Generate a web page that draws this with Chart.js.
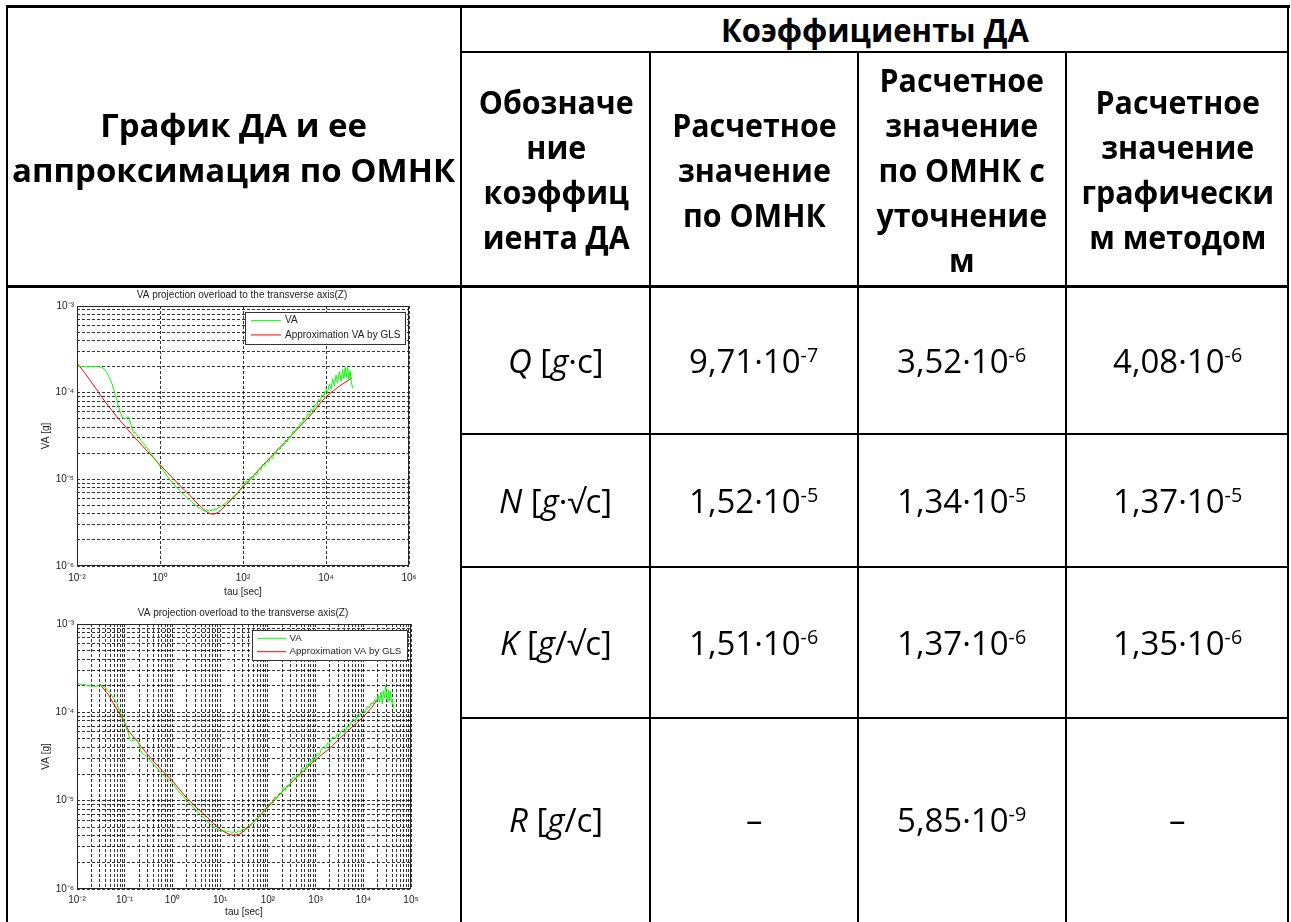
<!DOCTYPE html>
<html>
<head>
<meta charset="utf-8">
<script src="https://cdn.jsdelivr.net/npm/chart.js@4.4.1/dist/chart.umd.min.js"></script>
<style>
  html, body { margin: 0; padding: 0; background: #fff; }
  body { width: 1291px; height: 922px; position: relative; overflow: hidden; }
  .ln { position: absolute; background: #000; }
  .cell { position: absolute; display: flex; align-items: center; justify-content: center;
          text-align: center; color: #000; font-family: "Open Sans", "Noto Sans", sans-serif;
          font-size: 33px; line-height: 45px; }
  .cell .t { display: inline-block; white-space: nowrap; }
  .b { font-weight: 700; }
  .cell sup { font-size: 0.6em; line-height: 0; vertical-align: 0.55em; }
  canvas { position: absolute; }
</style>
</head>
<body>
<canvas id="chartGLS" width="444" height="320" style="left:20px;top:280px;"></canvas>
<canvas id="chartRefined" width="446" height="322" style="left:20px;top:598px;"></canvas>
<script>
// ---------- table content ----------
const headerLeft = ['График ДА и ее', 'аппроксимация по ОМНК'];
const headerGroup = 'Коэффициенты ДА';
const columnHeads = [
  ['Обозначе', 'ние', 'коэффиц', 'иента ДА'],
  ['Расчетное', 'значение', 'по ОМНК'],
  ['Расчетное', 'значение', 'по ОМНК с', 'уточнение', 'м'],
  ['Расчетное', 'значение', 'графически', 'м методом']
];
const coefSymbols = ['Q', 'N', 'K', 'R'];
const coefUnits = ['·с]', '·√с]', '/√с]', '/с]'];
const glsValues = [[9.71, -7], [1.52, -5], [1.51, -6], null];
const refinedValues = [[3.52, -6], [1.34, -5], [1.37, -6], [5.85, -9]];
const graphicValues = [[4.08, -6], [1.37, -5], [1.35, -6], null];

// ---------- chart content ----------
const chartTitle = 'VA projection overload to the transverse axis(Z)';
const xAxisTitle = 'tau [sec]';
const yAxisTitle = 'VA [g]';
const seriesNames = ['VA', 'Approximation VA by GLS'];

// top chart: tick values and labels
const gls_xTicks = [1e-2, 1e0, 1e2, 1e4, 1e6];
const gls_xLabels = ['10⁻²', '10⁰', '10²', '10⁴', '10⁶'];
// bottom chart: labelled decades, minor lines at 2..9 of every decade
const ref_xDecades = [1e-2, 1e-1, 1e0, 1e1, 1e2, 1e3, 1e4, 1e5];
const ref_xLabels = ['10⁻²', '10⁻¹', '10⁰', '10¹', '10²', '10³', '10⁴', '10⁵'];
// shared VA axis
const yDecades = [1e-6, 1e-5, 1e-4, 1e-3];
const yLabels = ['10⁻⁶', '10⁻⁵', '10⁻⁴', '10⁻³'];
const minorSteps = [2, 3, 4, 5, 6, 7, 8, 9];

// measured Allan variance, top chart  [tau, VA]
const vaMeasuredTop = [
  [0.01,2.0e-4],[0.013,2.01e-4],[0.017,1.99e-4],[0.022,2.0e-4],[0.028,2.0e-4],[0.034,1.99e-4],
  [0.04,1.95e-4],[0.046,1.86e-4],[0.052,1.72e-4],[0.058,1.55e-4],[0.064,1.4e-4],[0.07,1.26e-4],
  [0.077,1.08e-4],[0.085,9.3e-5],[0.093,8.0e-5],[0.1,6.9e-5],[0.11,6.0e-5],[0.12,5.4e-5],
  [0.13,5.05e-5],[0.145,5.0e-5],[0.16,5.2e-5],[0.172,5.25e-5],[0.185,4.8e-5],[0.2,4.3e-5],
  [0.215,3.8e-5],[0.23,3.45e-5],[0.25,3.5e-5],[0.27,3.35e-5],[0.3,3.1e-5],[0.35,2.8e-5],
  [0.4,2.6e-5],[0.5,2.25e-5],[0.62,1.95e-5],[0.75,1.72e-5],[0.88,1.55e-5],[1.0,1.42e-5],
  [1.25,1.22e-5],[1.6,1.04e-5],[2.0,9.1e-6],[2.5,8.1e-6],[3.0,7.4e-6],[3.8,6.6e-6],
  [4.7,6.0e-6],[5.8,5.5e-6],[7.0,5.1e-6],[8.2,4.8e-6],[9.5,4.55e-6],[10.5,4.35e-6],
  [11.5,4.45e-6],[12.5,4.3e-6],[13.5,4.5e-6],[14.5,4.28e-6],[15.7,4.48e-6],[17,4.3e-6],
  [18.3,4.55e-6],[19.7,4.35e-6],[21,4.55e-6],[23,4.45e-6],[25,4.7e-6],[28,4.8e-6],
  [32,5.0e-6],[37,5.25e-6],[42,5.5e-6],[48,5.75e-6],[55,6.1e-6],[63,6.5e-6],[72,7.0e-6],
  [82,7.5e-6],[93,8.1e-6],[105,8.6e-6],[120,9.6e-6],[135,9.0e-6],[150,1.05e-5],[170,1.0e-5],
  [190,1.17e-5],[215,1.12e-5],[240,1.3e-5],[270,1.28e-5],[300,1.5e-5],[330,1.42e-5],
  [370,1.62e-5],[410,1.56e-5],[460,1.8e-5],[510,1.74e-5],[570,2.0e-5],[630,1.95e-5],
  [700,2.3e-5],[780,2.2e-5],[860,2.5e-5],[950,2.45e-5],[1050,2.8e-5],[1170,2.7e-5],
  [1300,3.15e-5],[1430,3.05e-5],[1600,3.6e-5],[1770,3.45e-5],[1950,3.95e-5],[2150,3.85e-5],
  [2400,4.5e-5],[2650,4.3e-5],[2950,5.0e-5],[3250,4.8e-5],[3600,5.7e-5],[4000,5.5e-5],
  [4400,6.5e-5],[4900,6.1e-5],[5400,7.3e-5],[6000,7.0e-5],[6600,8.4e-5],[7300,8.0e-5],
  [8000,9.5e-5],[8900,9.0e-5],[9800,1.08e-4],[10800,1.0e-4],[12000,1.25e-4],[13200,1.1e-4],
  [14500,1.45e-4],[16000,1.2e-4],[17500,1.6e-4],[19000,1.3e-4],[21000,1.75e-4],[23000,1.35e-4],
  [25000,1.85e-4],[27000,1.45e-4],[29000,1.95e-4],[31000,1.5e-4],[33000,2.0e-4],[35500,1.4e-4],
  [38000,1.8e-4],[41000,1.3e-4],[44000,1.12e-4]
];
// GLS approximation, top chart
const vaGlsTop = [
  [0.01,2.2e-4],[0.015,1.72e-4],[0.02,1.42e-4],[0.03,1.08e-4],[0.05,7.6e-5],[0.07,6.2e-5],
  [0.1,5.0e-5],[0.15,4.0e-5],[0.2,3.4e-5],[0.3,2.75e-5],[0.5,2.1e-5],[0.7,1.77e-5],
  [1,1.47e-5],[1.5,1.2e-5],[2,1.04e-5],[3,8.5e-6],[4,7.4e-6],[5.5,6.4e-6],[7,5.6e-6],
  [10,4.75e-6],[13,4.25e-6],[16,4.02e-6],[18,3.97e-6],[21,4.0e-6],[25,4.15e-6],[30,4.45e-6],
  [40,5.1e-6],[55,6.0e-6],[75,7.0e-6],[100,8.2e-6],[150,1.0e-5],[200,1.17e-5],[300,1.45e-5],
  [500,1.88e-5],[700,2.22e-5],[1000,2.65e-5],[1500,3.25e-5],[2000,3.75e-5],[3000,4.6e-5],
  [5000,6.0e-5],[7000,7.4e-5],[1e4,9.0e-5],[1.5e4,1.05e-4],[2e4,1.17e-4],[3e4,1.33e-4],
  [4.2e4,1.48e-4]
];
// measured Allan variance, bottom chart
const vaMeasuredBottom = [
  [0.01,2.1e-4],[0.013,2.07e-4],[0.016,2.02e-4],[0.019,1.99e-4],[0.022,1.97e-4],[0.026,1.97e-4],
  [0.03,2.05e-4],[0.035,1.98e-4],[0.04,1.88e-4],[0.049,1.66e-4],[0.058,1.45e-4],[0.068,1.26e-4],
  [0.08,1.02e-4],[0.093,8.5e-5],[0.105,7.0e-5],[0.119,5.8e-5],[0.129,4.9e-5],[0.14,4.75e-5],
  [0.155,4.8e-5],[0.178,4.95e-5],[0.2,4.4e-5],[0.215,3.8e-5],[0.23,3.45e-5],[0.26,3.3e-5],
  [0.29,3.15e-5],[0.4,2.6e-5],[0.55,2.13e-5],[0.75,1.8e-5],[1.0,1.58e-5],[1.4,1.25e-5],
  [2,1.0e-5],[2.8,8.3e-6],[3.8,7.1e-6],[5.2,5.9e-6],[7.2,5.05e-6],[9,4.7e-6],[10.7,4.45e-6],
  [12,4.6e-6],[13.7,4.4e-6],[15.5,4.55e-6],[17.5,4.26e-6],[19.5,4.5e-6],[22,4.3e-6],
  [24,4.6e-6],[26,4.4e-6],[29,4.75e-6],[33,4.7e-6],[37,5.1e-6],[42,5.3e-6],[48,5.5e-6],
  [55,6.1e-6],[62,6.3e-6],[70,7.0e-6],[80,7.6e-6],[90,8.2e-6],[100,8.6e-6],[112,9.4e-6],
  [125,9.8e-6],[140,1.1e-5],[155,1.05e-5],[172,1.22e-5],[190,1.17e-5],[211,1.42e-5],
  [232,1.3e-5],[255,1.5e-5],[280,1.45e-5],[310,1.7e-5],[342,1.85e-5],[375,1.72e-5],
  [410,1.98e-5],[450,1.88e-5],[500,2.2e-5],[555,2.4e-5],[600,2.2e-5],[660,2.6e-5],
  [720,2.45e-5],[790,2.85e-5],[870,2.7e-5],[900,3.15e-5],[990,3.0e-5],[1090,3.45e-5],
  [1200,3.3e-5],[1320,3.8e-5],[1455,4.1e-5],[1600,3.85e-5],[1760,4.5e-5],[1930,4.3e-5],
  [2120,4.95e-5],[2357,5.3e-5],[2600,5.0e-5],[2850,5.7e-5],[3150,5.5e-5],[3450,6.2e-5],
  [3820,6.4e-5],[4200,6.0e-5],[4600,7.0e-5],[5100,6.8e-5],[5600,7.8e-5],[6190,8.4e-5],
  [6800,8.0e-5],[7500,9.2e-5],[8300,8.9e-5],[9100,1.0e-4],[1.0e4,1.04e-4],[1.1e4,1.0e-4],
  [1.2e4,1.15e-4],[1.33e4,1.12e-4],[1.46e4,1.28e-4],[1.6e4,1.24e-4],[1.75e4,1.4e-4],
  [1.9e4,1.32e-4],[2.05e4,1.55e-4],[2.2e4,1.3e-4],[2.35e4,1.7e-4],[2.5e4,1.25e-4],
  [2.65e4,1.75e-4],[2.8e4,1.45e-4],[2.95e4,2.0e-4],[3.1e4,1.5e-4],[3.25e4,1.3e-4],
  [3.4e4,1.8e-4],[3.55e4,1.35e-4],[3.7e4,1.75e-4],[3.9e4,1.3e-4],[4.1e4,1.4e-4],[4.3e4,1.11e-4]
];
// refined GLS approximation, bottom chart
const vaGlsBottom = [
  [0.03,2.09e-4],[0.045,1.6e-4],[0.058,1.26e-4],[0.075,1.0e-4],[0.093,8.2e-5],[0.11,6.8e-5],
  [0.129,5.9e-5],[0.15,5.3e-5],[0.178,4.86e-5],[0.22,4.1e-5],[0.29,3.44e-5],[0.4,2.8e-5],
  [0.55,2.32e-5],[0.75,1.95e-5],[1.0,1.68e-5],[1.4,1.35e-5],[2,1.07e-5],[3,8.6e-6],[4,7.5e-6],
  [5.5,6.4e-6],[7.2,5.5e-6],[10,4.75e-6],[13.7,4.28e-6],[17,4.1e-6],[20,4.05e-6],[26,4.2e-6],
  [32,4.55e-6],[40,5.07e-6],[55,6.0e-6],[80,7.4e-6],[120,9.3e-6],[200,1.27e-5],[350,1.7e-5],
  [650,2.35e-5],[1200,3.15e-5],[2000,3.92e-5],[3500,5.3e-5],[6000,6.9e-5],[1e4,8.9e-5],
  [1.5e4,1.13e-4],[2.07e4,1.45e-4]
];

// ---------- table drawing ----------
const colX = [462, 650, 858, 1066, 1289];
const rowY = [286, 434, 567, 718, 920];

function line(x, y, w, h) {
  const d = document.createElement('div');
  d.className = 'ln';
  Object.assign(d.style, { left: x + 'px', top: y + 'px', width: w + 'px', height: h + 'px' });
  document.body.appendChild(d);
}
function cell(cls, x1, x2, y1, y2, html, sx) {
  const d = document.createElement('div');
  d.className = 'cell ' + cls;
  Object.assign(d.style, { left: x1 + 'px', width: (x2 - x1) + 'px', top: y1 + 'px', height: (y2 - y1) + 'px' });
  d.innerHTML = '<span class="t">' + html + '</span>';
  d.firstChild.dataset.sx = sx || 1;
  document.body.appendChild(d);
}

// frame and rules
line(6, 5, 1284, 3);
line(6, 5, 2, 917);
line(1287, 5, 2, 917);
line(460, 5, 2, 917);
line(462, 51, 826, 2);
line(6, 285, 1283, 3);
[649, 857, 1065].forEach(x => line(x, 52, 2, 870));
[433, 566, 717].forEach(y => line(462, y, 826, 2));

const fmtValue = v => v ? `${v[0].toFixed(2).replace('.', ',')}·10<sup>${v[1]}</sup>` : '–';

cell('b', 8, 460, 8, 285, headerLeft.join('<br>'), 1);
cell('b', 462, 1287, 8, 51, headerGroup, 0.94);
columnHeads.forEach((lines, i) => cell('b', colX[i], colX[i + 1], 53, 285, lines.join('<br>'), 0.92));
coefSymbols.forEach((s, r) => {
  const y1 = rowY[r], y2 = rowY[r + 1];
  cell('', colX[0], colX[1], y1, y2, `<i>${s}</i> [<i>g</i>${coefUnits[r]}`, 1);
  cell('', colX[1], colX[2], y1, y2, fmtValue(glsValues[r]), 1);
  cell('', colX[2], colX[3], y1, y2, fmtValue(refinedValues[r]), 1);
  cell('', colX[3], colX[4], y1, y2, fmtValue(graphicValues[r]), 1);
});

// width of the caption line sets the horizontal scale of the table lettering
(function fitLettering() {
  const c = document.createElement('canvas').getContext('2d');
  c.font = '700 33px "Open Sans", "Noto Sans", sans-serif';
  const w = c.measureText(headerLeft[1]).width;
  let f = 443 / w;
  f = Math.max(0.8, Math.min(1.2, f));
  document.querySelectorAll('.cell .t').forEach(s => {
    s.style.transform = `scaleX(${f * Number(s.dataset.sx)})`;
  });
})();

// ---------- charts ----------
const FONT = '"Liberation Sans", Arial, sans-serif';
Chart.defaults.font.family = FONT;
Chart.defaults.font.size = 10;
Chart.defaults.color = '#222';

function tickSet(values, labels) {
  return values.map((v, i) => ({ value: v, lbl: labels[i] }));
}
function decadeGrid(decades, labels) {
  const out = [];
  decades.forEach((d, i) => {
    out.push({ value: d, lbl: labels[i] });
    if (i < decades.length - 1) minorSteps.forEach(m => out.push({ value: m * d, lbl: '' }));
  });
  return out;
}
const toXY = arr => arr.map(p => ({ x: p[0], y: p[1] }));

const axesFrame = {
  id: 'axesFrame',
  afterDatasetsDraw(chart) {
    const { ctx, chartArea: a } = chart;
    ctx.save();
    ctx.strokeStyle = '#262626';
    ctx.lineWidth = 1;
    ctx.strokeRect(Math.round(a.left) + 0.5, Math.round(a.top) + 0.5,
                   Math.round(a.right - a.left) - 1, Math.round(a.bottom - a.top) - 1);
    ctx.restore();
  }
};
const legendBox = {
  id: 'legendBox',
  afterDraw(chart, args, o) {
    const { ctx, chartArea: a } = chart;
    const ds = chart.data.datasets;
    ctx.save();
    ctx.font = `${o.fontSize}px ${FONT}`;
    const tw = Math.max(...ds.map(d => ctx.measureText(d.label).width));
    const w = o.padL + o.lineLen + o.gap + tw + o.padR;
    const h = o.rowH * ds.length + o.padV * 2;
    const x = Math.round(a.right - o.right - w), y = Math.round(a.top + o.top);
    ctx.fillStyle = '#fff';
    ctx.fillRect(x, y, w, h);
    ctx.strokeStyle = '#333';
    ctx.lineWidth = 1;
    ctx.strokeRect(x + 0.5, y + 0.5, Math.round(w), Math.round(h));
    ds.forEach((d, i) => {
      const cy = y + o.padV + o.rowH * (i + 0.5);
      ctx.strokeStyle = d.borderColor;
      ctx.beginPath();
      ctx.moveTo(x + o.padL, cy);
      ctx.lineTo(x + o.padL + o.lineLen, cy);
      ctx.stroke();
      ctx.fillStyle = '#222';
      ctx.textBaseline = 'middle';
      ctx.textAlign = 'left';
      ctx.fillText(d.label, x + o.padL + o.lineLen + o.gap, cy);
    });
    ctx.restore();
  }
};

function makeChart(id, cfg) {
  const gridStyle = { color: 'rgba(0,0,0,0.8)', lineWidth: 1, drawTicks: false };
  const dash = { display: false, dash: [3, 2] };
  return new Chart(document.getElementById(id), {
    type: 'line',
    data: {
      datasets: [
        { label: seriesNames[0], data: toXY(cfg.measured), borderColor: '#00ff00', borderWidth: 1,
          pointRadius: 0, tension: 0, fill: false },
        { label: seriesNames[1], data: toXY(cfg.approx), borderColor: '#ff0000', borderWidth: 1,
          pointRadius: 0, tension: 0, fill: false }
      ]
    },
    options: {
      responsive: false,
      animation: false,
      events: [],
      layout: { padding: 0 },
      plugins: {
        legend: { display: false },
        tooltip: { enabled: false },
        title: { display: true, text: chartTitle, color: '#222',
                 font: { size: 10, weight: 'normal' }, padding: { top: 9, bottom: 5 } },
        legendBox: cfg.legend
      },
      scales: {
        x: {
          type: 'logarithmic', min: cfg.xMin, max: cfg.xMax, position: 'bottom',
          grid: gridStyle, border: dash,
          afterBuildTicks: s => { s.ticks = cfg.xTicks.map(t => ({ ...t })); },
          afterFit: s => { s.height = cfg.xAxisH; },
          ticks: { autoSkip: false, maxRotation: 0, padding: cfg.xPad, color: '#222',
                   callback: (v, i, t) => t[i].lbl },
          title: { display: true, text: xAxisTitle, color: '#222', font: { size: 10 },
                   padding: { top: 0, bottom: 2 } }
        },
        y: {
          type: 'logarithmic', min: 1e-6, max: 1e-3, position: 'left',
          grid: gridStyle, border: dash,
          afterBuildTicks: s => { s.ticks = decadeGrid(yDecades, yLabels); },
          afterFit: s => { s.width = 57; },
          ticks: { autoSkip: false, padding: 3, color: '#222', callback: (v, i, t) => t[i].lbl },
          title: { display: true, text: yAxisTitle, color: '#222', font: { size: 10 },
                   padding: { top: 20, bottom: 0 } }
        },
        yR: {
          type: 'linear', position: 'right', display: true,
          grid: { display: false, drawTicks: false }, border: { display: false },
          ticks: { display: false },
          afterFit: s => { s.width = 55; }
        }
      }
    },
    plugins: [axesFrame, legendBox]
  });
}

makeChart('chartGLS', {
  measured: vaMeasuredTop, approx: vaGlsTop,
  xMin: 1e-2, xMax: 1e6, xTicks: tickSet(gls_xTicks, gls_xLabels),
  xAxisH: 34, xPad: 6,
  legend: { fontSize: 10, padL: 6, lineLen: 30, gap: 4, padR: 5, rowH: 14.3, padV: 1.5, right: 4, top: 6 }
});
makeChart('chartRefined', {
  measured: vaMeasuredBottom, approx: vaGlsBottom,
  xMin: 1e-2, xMax: 1e5, xTicks: decadeGrid(ref_xDecades, ref_xLabels),
  xAxisH: 31, xPad: 5,
  legend: { fontSize: 9.7, padL: 5, lineLen: 29, gap: 3.5, padR: 6, rowH: 13.4, padV: 1.6, right: 4, top: 6 }
});
</script>
</body>
</html>
